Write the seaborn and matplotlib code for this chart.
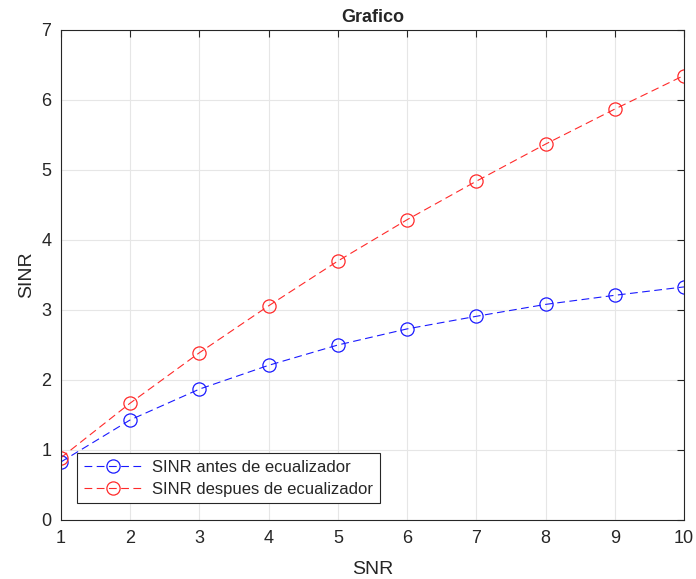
import matplotlib
matplotlib.use("Agg")
import matplotlib.pyplot as plt
import seaborn as sns
import pandas as pd

snr = [1, 2, 3, 4, 5, 6, 7, 8, 9, 10]
sinr_antes = [0.83, 1.43, 1.87, 2.21, 2.50, 2.73, 2.91, 3.08, 3.21, 3.33]
sinr_despues = [0.89, 1.67, 2.39, 3.06, 3.70, 4.29, 4.84, 5.37, 5.87, 6.35]
labels = ["SINR antes de ecualizador", "SINR despues de ecualizador"]
xticks = list(range(1, 11))
yticks = list(range(0, 8))

sns.set_style("white")
plt.rcParams['font.family'] = ['Liberation Sans', 'DejaVu Sans']

df = pd.DataFrame({
    "SNR": snr * 2,
    "SINR": sinr_antes + sinr_despues,
    "serie": [labels[0]] * len(snr) + [labels[1]] * len(snr),
})

colors = ["#1a1aff", "#ff2a2a"]
fig = plt.figure(figsize=(6.96, 5.79), dpi=100)
ax = fig.add_axes([61/696, 1 - 520/579, (684 - 61)/696, (520 - 30)/579])

sns.lineplot(data=df, x="SNR", y="SINR", hue="serie", palette=colors,
             marker="o", markersize=9.5, markerfacecolor="none", markeredgewidth=0.9,
             linestyle=(0, (7, 4)), linewidth=0.8, ax=ax, legend=True)

for line, c in zip(ax.get_lines(), colors):
    line.set_markeredgecolor(c)
    line.set_markerfacecolor("none")

ax.set_xlim(1, 10)
ax.set_ylim(0, 7)
ax.set_xticks(xticks)
ax.set_yticks(yticks)
ax.grid(True, color="#e6e6e6", linewidth=0.8)
ax.tick_params(direction="in", length=5, labelsize=13, colors="#262626", top=True, right=True, pad=7)
for s in ax.spines.values():
    s.set_color("#262626")
    s.set_linewidth(0.8)
ax.set_xlabel("SNR", fontsize=14, color="#262626", labelpad=10)
ax.set_ylabel("SINR", fontsize=14, color="#262626", labelpad=4)
ax.set_title("Grafico", fontsize=13, fontweight="bold", pad=6)

leg = ax.legend(loc="lower left", bbox_to_anchor=(0.026, 0.034), fontsize=12,
                frameon=True, fancybox=False, edgecolor="#262626", framealpha=1,
                handlelength=3.5, handletextpad=0.6, borderpad=0.4, labelspacing=0.4,
                borderaxespad=0)
leg.get_frame().set_linewidth(0.8)
for h, c in zip(leg.get_lines(), colors):
    h.set_markeredgecolor(c)
    h.set_markerfacecolor("none")

fig.savefig("out.png", dpi=100)
